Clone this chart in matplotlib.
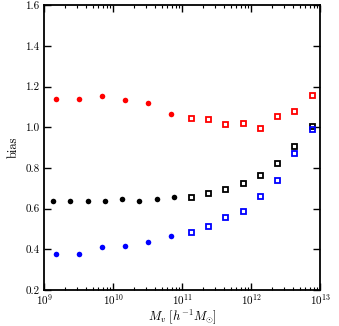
import numpy as np
import matplotlib
matplotlib.use('Agg')
import matplotlib.pyplot as plt

# log10 halo mass positions and bias values
logm_red_circ = [9.167, 9.5, 9.833, 10.167, 10.5, 10.833]
bias_red_circ = [1.138, 1.138, 1.155, 1.135, 1.119, 1.063]
logm_blue_circ = [9.167, 9.5, 9.833, 10.167, 10.5, 10.833]
bias_blue_circ = [0.375, 0.375, 0.409, 0.416, 0.435, 0.467]
logm_black_circ = [9.125, 9.375, 9.625, 9.875, 10.125, 10.375, 10.625, 10.875]
bias_black_circ = [0.637, 0.636, 0.636, 0.636, 0.646, 0.636, 0.646, 0.657]

logm_sq = [11.125, 11.375, 11.625, 11.875, 12.125, 12.375, 12.625, 12.875]
bias_red_sq = [1.046, 1.038, 1.017, 1.019, 0.996, 1.055, 1.079, 1.157]
bias_black_sq = [0.657, 0.674, 0.695, 0.723, 0.766, 0.823, 0.908, 1.007]
bias_blue_sq = [0.483, 0.513, 0.556, 0.588, 0.662, 0.738, 0.874, 0.989]

plt.rcParams['font.family'] = 'serif'
plt.rcParams['font.serif'] = ['cmr10', 'DejaVu Serif']
plt.rcParams['mathtext.fontset'] = 'cm'
plt.rcParams['axes.formatter.use_mathtext'] = True
plt.rcParams['axes.unicode_minus'] = False

fig = plt.figure(figsize=(3.39, 3.26), dpi=100)
ax = fig.add_axes([0.131, 0.111, 0.814, 0.873])

def m(x):
    return 10 ** np.asarray(x)

ax.plot(m(logm_red_circ), bias_red_circ, 'o', color='red', ms=4, mec='none')
ax.plot(m(logm_black_circ), bias_black_circ, 'o', color='black', ms=4, mec='none')
ax.plot(m(logm_blue_circ), bias_blue_circ, 'o', color='blue', ms=4, mec='none')

sq = dict(marker='s', ls='none', mfc='none', ms=3.6, mew=1.3)
ax.plot(m(logm_sq), bias_red_sq, mec='red', **sq)
ax.plot(m(logm_sq), bias_black_sq, mec='black', **sq)
ax.plot(m(logm_sq), bias_blue_sq, mec='blue', **sq)

ax.set_xscale('log')
ax.set_xlim(1e9, 1e13)
ax.set_ylim(0.2, 1.6)
ax.set_yticks([0.2, 0.4, 0.6, 0.8, 1.0, 1.2, 1.4, 1.6])
ax.set_yticklabels(['0.2', '0.4', '0.6', '0.8', '1.0', '1.2', '1.4', '1.6'])

ax.tick_params(which='both', direction='in', top=True, right=True,
               labelsize=8, colors='black')
ax.tick_params(axis='x', which='both', pad=2)
ax.tick_params(which='major', length=5, width=1)
ax.tick_params(which='minor', length=2.5, width=0.8)
for s in ax.spines.values():
    s.set_linewidth(1.3)

ax.set_xlabel(r'$M_v\ [h^{-1}M_{\odot}]$', fontsize=9, labelpad=0)
ax.set_ylabel('bias', fontsize=9, labelpad=4)

fig.savefig('out.png', dpi=100)
plt.close('all')
